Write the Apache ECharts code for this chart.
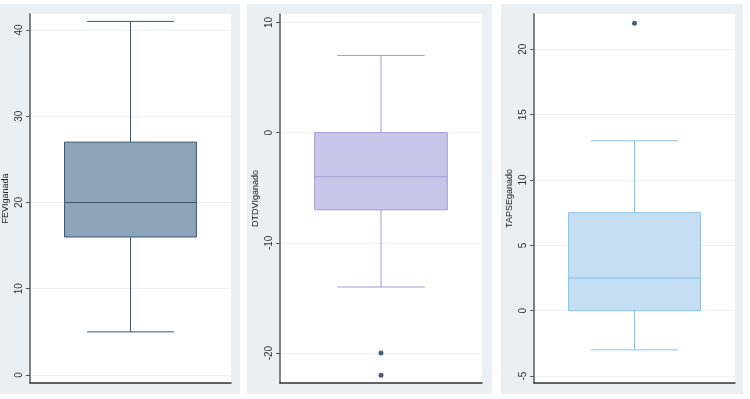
<!DOCTYPE html>
<html lang="en">
<head>
<meta charset="utf-8">
<title>boxplots</title>
<script src="https://cdn.jsdelivr.net/npm/echarts@6/dist/echarts.min.js"></script>
<style>
  html, body { margin: 0; padding: 0; background: #fff; }
  #chart { width: 750px; height: 399px; }
</style>
</head>
<body>
<div id="chart"></div>
<script>
// five-number summaries: [lower whisker, q1, median, q3, upper whisker]
var varNames = ['FEVIganada', 'DTDVIganado', 'TAPSEganado'];
var fevBox = [5, 16, 20, 27, 41];
var dtdBox = [-14, -7, -4, 0, 7];
var tapBox = [-3, 0, 2.5, 7.5, 13];
var fevOutliers = [];
var dtdOutliers = [-20, -22];
var tapOutliers = [22];
var fevTicks = [0, 10, 20, 30, 40];
var dtdTicks = [-20, -10, 0, 10];
var tapTicks = [-5, 0, 5, 10, 15, 20];

var panels = [
    { box: fevBox, out: fevOutliers, ticks: fevTicks, min: -0.93, max: 41.86,
      left: 30, right: 519, fill: '#8ea4b9', line: '#3c5670', bg: [0, 240] },
    { box: dtdBox, out: dtdOutliers, ticks: dtdTicks, min: -22.71, max: 10.76,
      left: 280, right: 268, fill: '#cac6ea', line: '#a597d6', bg: [247, 492] },
    { box: tapBox, out: tapOutliers, ticks: tapTicks, min: -5.53, max: 22.7,
      left: 534, right: 15, fill: '#c4dff3', line: '#8fc1e2', bg: [501, 743] }
];

var BOX_HALF = 0.328, CAP_HALF = 0.216;

function makeRender(p) {
    return function (params, api) {
        var x = api.value(0);
        var lo = api.value(1), q1 = api.value(2), med = api.value(3), q3 = api.value(4), hi = api.value(5);
        var tl = api.coord([x - BOX_HALF, q3]);
        var br = api.coord([x + BOX_HALF, q1]);
        var ln = { stroke: p.line, lineWidth: 1 };
        function seg(a, b) {
            var s = api.coord(a), e = api.coord(b);
            return { type: 'line', shape: { x1: s[0], y1: s[1], x2: e[0], y2: e[1] }, style: ln };
        }
        return {
            type: 'group',
            children: [
                seg([x, q3], [x, hi]),
                seg([x, q1], [x, lo]),
                seg([x - CAP_HALF, hi], [x + CAP_HALF, hi]),
                seg([x - CAP_HALF, lo], [x + CAP_HALF, lo]),
                { type: 'rect', shape: { x: tl[0], y: tl[1], width: br[0] - tl[0], height: br[1] - tl[1] },
                  style: { fill: p.fill, stroke: p.line, lineWidth: 1 } },
                seg([x - BOX_HALF, med], [x + BOX_HALF, med])
            ]
        };
    };
}

var grids = [], xAxes = [], yAxes = [], series = [], bgs = [];
panels.forEach(function (p, i) {
    bgs.push({ type: 'rect', z: -10, shape: { x: p.bg[0], y: 4, width: p.bg[1] - p.bg[0], height: 390 },
               style: { fill: '#e9eff2' } });
    grids.push({ left: p.left, right: p.right, top: 14, bottom: 16, show: true,
                 backgroundColor: '#fff', borderWidth: 0 });
    xAxes.push({
        gridIndex: i, type: 'value', min: 0, max: 1,
        axisLine: { show: true, onZero: false, lineStyle: { color: '#333', width: 1.5 } },
        axisTick: { show: false }, axisLabel: { show: false }, splitLine: { show: false }
    });
    yAxes.push({
        gridIndex: i, type: 'value', min: p.min, max: p.max,
        name: varNames[i], nameLocation: 'middle', nameGap: 20,
        nameTextStyle: { fontSize: 9, color: '#222', fontFamily: 'Liberation Sans, Arial' },
        axisLine: { show: true, onZero: false, lineStyle: { color: '#5a5a5a', width: 1.5 } },
        axisTick: { show: true, length: 4, customValues: p.ticks, lineStyle: { color: '#555' } },
        axisLabel: { rotate: 90, margin: 6, fontSize: 10, color: '#333',
                     fontFamily: 'Liberation Sans, Arial', customValues: p.ticks },
        splitLine: { show: true, lineStyle: { color: '#edf1f3', width: 1 } }
    });
    series.push({
        type: 'custom', xAxisIndex: i, yAxisIndex: i,
        renderItem: makeRender(p),
        data: [[0.5].concat(p.box)],
        silent: true
    });
    series.push({
        type: 'scatter', xAxisIndex: i, yAxisIndex: i,
        symbolSize: 5, itemStyle: { color: '#1c3a5a' },
        data: p.out.map(function (v) { return [0.5, v]; }),
        silent: true
    });
});

var chart = echarts.init(document.getElementById('chart'));
chart.setOption({
    animation: false,
    backgroundColor: '#fff',
    graphic: { elements: bgs },
    grid: grids,
    xAxis: xAxes,
    yAxis: yAxes,
    series: series
});
</script>
</body>
</html>
